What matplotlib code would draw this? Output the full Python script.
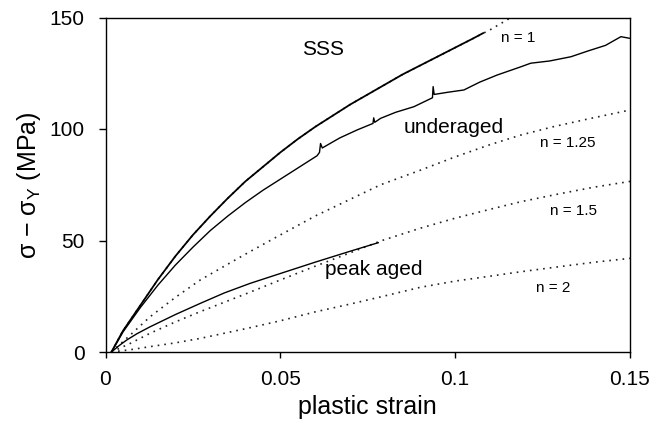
import matplotlib
matplotlib.use("Agg")
import matplotlib.pyplot as plt

plt.rcParams['font.family'] = ['Liberation Sans', 'DejaVu Sans']
plt.rcParams['mathtext.fontset'] = 'custom'
plt.rcParams['mathtext.rm'] = 'Liberation Sans'
plt.rcParams['mathtext.it'] = 'Liberation Sans:italic'

# Measured flow curves (plastic strain, stress above yield in MPa)
sss_strain = [0.0017, 0.005, 0.010, 0.015, 0.020, 0.025, 0.030, 0.035, 0.040, 0.045,
              0.050, 0.055, 0.060, 0.065, 0.070, 0.075, 0.080, 0.085, 0.090, 0.095,
              0.100, 0.105, 0.108]
sss_stress = [0.0, 9.5, 21.0, 32.5, 43.0, 52.5, 61.0, 69.0, 76.5, 83.0,
              89.5, 95.5, 101.0, 106.0, 111.0, 115.5, 120.0, 124.5, 128.5, 132.5,
              136.5, 140.5, 143.0]

under_strain = [0.0017, 0.005, 0.010, 0.015, 0.020, 0.025, 0.030, 0.035, 0.040, 0.045,
                0.050, 0.055, 0.0605, 0.0612, 0.0615, 0.0620, 0.067, 0.072, 0.0765,
                0.0767, 0.0770, 0.0787, 0.083, 0.0882, 0.0935, 0.0937, 0.0940, 0.0980,
                0.1025, 0.107, 0.112, 0.1188, 0.1216, 0.127, 0.1331, 0.138, 0.143,
                0.1474, 0.1498]
under_stress = [0.0, 9.0, 20.0, 30.0, 39.0, 47.0, 54.5, 61.0, 67.0, 72.5,
                77.5, 82.5, 88.0, 89.5, 93.5, 91.5, 96.0, 99.6, 102.5,
                105.0, 103.0, 104.8, 107.5, 110.0, 114.0, 119.0, 115.5, 116.5,
                117.5, 121.0, 124.2, 127.9, 129.5, 130.5, 132.4, 135.0, 137.5,
                141.4, 140.7]

peak_strain = [0.0017, 0.004, 0.0061, 0.009, 0.01275, 0.020, 0.0271, 0.034, 0.0414,
               0.050, 0.060, 0.070, 0.0767, 0.078]
peak_stress = [0.0, 3.0, 5.4, 8.2, 11.3, 16.8, 21.8, 26.5, 30.8,
               35.2, 40.3, 45.2, 48.4, 49.0]

# Model curves for different exponents n
n1_strain = [0.0017, 0.005, 0.010, 0.015, 0.020, 0.025, 0.030, 0.035, 0.040, 0.045,
             0.050, 0.055, 0.060, 0.065, 0.070, 0.075, 0.080, 0.085, 0.090, 0.095,
             0.100, 0.105, 0.110, 0.116, 0.118]
n1_stress = [0.0, 9.5, 21.0, 32.5, 43.0, 52.5, 61.0, 69.0, 76.5, 83.0,
             89.5, 95.5, 101.0, 106.0, 111.0, 115.5, 120.0, 124.5, 128.5, 132.5,
             136.5, 140.5, 144.5, 150.0, 151.5]

n125_strain = [0.0017, 0.007, 0.01275, 0.020, 0.0271, 0.034, 0.0405, 0.050, 0.060,
               0.070, 0.0787, 0.090, 0.100, 0.110, 0.1188, 0.128, 0.138, 0.150]
n125_stress = [0.0, 7.5, 15.8, 24.5, 32.3, 38.5, 44.3, 52.5, 61.0,
               68.5, 75.0, 81.5, 87.5, 93.0, 97.3, 101.0, 104.5, 108.5]

n15_strain = [0.0017, 0.007, 0.01275, 0.020, 0.0271, 0.0405, 0.050, 0.060, 0.070,
              0.0787, 0.090, 0.100, 0.110, 0.1188, 0.130, 0.140, 0.150]
n15_stress = [0.0, 3.8, 8.4, 13.5, 18.1, 26.3, 32.3, 38.5, 44.5,
              49.8, 55.5, 60.0, 64.0, 67.4, 71.0, 74.0, 76.5]

n2_strain = [0.0017, 0.007, 0.01275, 0.020, 0.0271, 0.0405, 0.050, 0.060, 0.070,
             0.080, 0.090, 0.100, 0.110, 0.1188, 0.130, 0.140, 0.150]
n2_stress = [0.0, 1.0, 2.4, 4.1, 6.1, 10.6, 14.0, 18.0, 21.5,
             25.2, 29.0, 31.8, 34.0, 36.0, 38.3, 40.3, 42.0]

x_ticks = [0, 0.05, 0.1, 0.15]
x_tick_labels = ['0', '0.05', '0.1', '0.15']
y_ticks = [0, 50, 100, 150]

fig = plt.figure(figsize=(6.69, 4.25), dpi=100)
ax = fig.add_axes([105.5 / 669, 1 - 352 / 425, (630 - 105.5) / 669, (352 - 17.5) / 425])

dot = (0, (1, 3))
for xs, ys in [(n1_strain, n1_stress), (n125_strain, n125_stress),
               (n15_strain, n15_stress), (n2_strain, n2_stress)]:
    ax.plot(xs, ys, linestyle=dot, color='#222222', lw=1.2)

ax.plot(sss_strain, sss_stress, color='black', lw=1.3)
ax.plot(under_strain, under_stress, color='black', lw=1.0)
ax.plot(peak_strain, peak_stress, color='black', lw=1.0)

ax.set_xlim(0, 0.15)
ax.set_ylim(0, 150)
ax.set_xticks(x_ticks)
ax.set_xticklabels(x_tick_labels)
ax.set_yticks(y_ticks)
ax.tick_params(direction='out', width=1, labelsize=15, colors='black')
ax.tick_params(axis='x', length=4, pad=9)
ax.tick_params(axis='y', length=5, pad=10)
for s in ax.spines.values():
    s.set_linewidth(1.0)
    s.set_color('black')

ax.set_xlabel('plastic strain', fontsize=18, labelpad=4)
ax.set_ylabel('σ − σ$_\\mathrm{Y}$ (MPa)', fontsize=18, labelpad=5)

ax.text(0.0623, 133.2, 'SSS', fontsize=15, ha='center', va='baseline')
ax.text(0.0995, 98.0, 'underaged', fontsize=15, ha='center', va='baseline')
ax.text(0.0766, 34.5, 'peak aged', fontsize=15, ha='center', va='baseline')
ax.text(0.1179, 138.9, 'n = 1', fontsize=11, ha='center', va='baseline')
ax.text(0.1322, 92.1, 'n = 1.25', fontsize=11, ha='center', va='baseline')
ax.text(0.1337, 61.4, 'n = 1.5', fontsize=11, ha='center', va='baseline')
ax.text(0.1280, 26.8, 'n = 2', fontsize=11, ha='center', va='baseline')

fig.savefig('out.png', dpi=100)
